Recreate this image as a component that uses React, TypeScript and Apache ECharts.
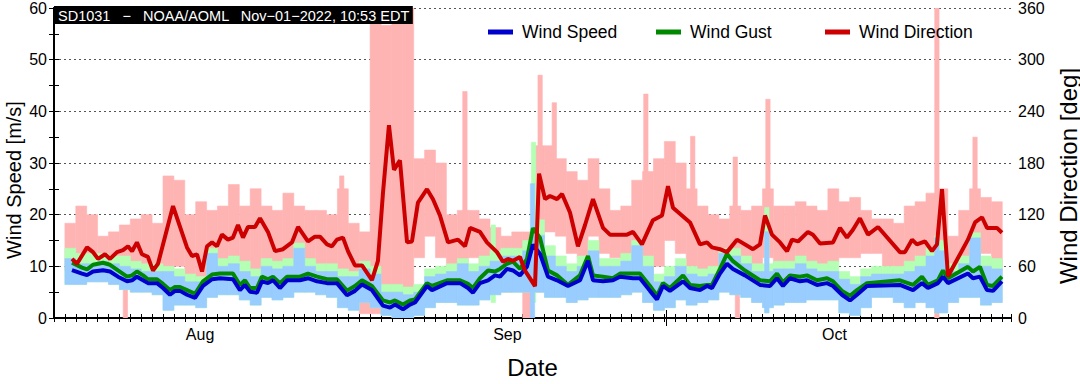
import React, { useEffect, useRef } from 'react';
import * as echarts from 'echarts';

// Time axis: days since 2022-07-23 00:00
const START_DATE = '2022-07-23';
const X_MAX_DAY = 87.8;
const monthLabels = ['Aug', 'Sep', 'Oct'];
const monthLabelDays = [13.4, 41.6, 71.6];
const majorTickDays = [56.2];

// Daily-average (thick) lines
const lineDays = [1.65,2.57,3.03,3.58,4.50,5.14,5.87,6.70,7.16,7.61,8.17,8.62,9.45,10.0,10.64,11.10,11.56,12.20,12.94,13.67,14.50,15.23,16.42,17.06,17.52,17.98,18.62,19.08,19.63,20.09,20.73,21.38,22.57,23.30,24.13,25.05,25.96,26.88,27.61,28.26,29.17,30.18,30.83,31.28,32.02,32.66,33.12,34.22,34.68,36.06,37.25,37.98,38.44,39.08,39.82,40.46,40.92,41.56,42.11,42.75,43.39,43.94,44.59,45.32,46.15,47.16,48.26,48.99,49.45,50.37,51.28,51.93,53.12,53.76,54.68,55.32,55.87,56.51,57.71,58.35,59.27,59.91,60.37,61.10,61.74,62.29,63.39,64.77,65.69,66.33,66.88,67.52,68.44,69.08,70.0,70.92,71.47,72.29,73.03,73.67,74.59,77.61,78.81,79.63,80.18,81.10,81.56,82.02,83.85,84.31,84.95,85.60,86.15,86.97];
const speedAvg = [9.25,8.6,8.3,9,9.25,9,8,7.1,7.3,8,7.3,6.75,6.75,5.8,4.5,5.25,5.25,4.5,3.9,6.2,7.5,7.7,7.5,5.4,6.4,5.1,4.9,7.1,6.75,7.3,5.8,7.3,7.3,7.7,7.1,6.75,6.75,4.4,5.25,6.5,5.4,2.4,2.0,2.6,1.7,2.6,3.0,6.2,5.4,6.75,6.75,5.8,4.9,6.75,7.3,8.25,8.0,9.5,9.2,8.25,9.9,14.2,12.4,8.0,7.3,6.2,7.3,11.1,7.3,7.1,7.3,8.0,7.7,7.7,5.25,3.6,6.2,5.25,7.1,5.8,5.4,6.2,5.8,8.6,10.5,9.5,8.25,6.4,6.2,7.7,6.2,7.7,7.1,7.3,6.4,6.75,6.2,4.5,3.4,4.5,6.2,6.4,5.4,6.75,5.8,6.75,8.0,6.75,8.6,7.7,8.0,5.4,5.25,7.1];
const gustAvg = [10.7,9.75,9.4,10.3,10.7,10.3,9.2,8.0,8.25,9.0,8.25,7.5,7.5,6.6,5.4,6.0,6.0,5.4,4.7,7.1,8.4,8.6,8.6,6.4,7.3,5.8,5.8,8.0,7.5,8.0,6.75,8.0,8.0,8.6,8.0,7.5,7.5,5.3,6.2,7.3,6.2,3.4,3.0,3.4,2.6,3.4,3.6,6.75,6.2,7.3,7.3,6.6,5.8,7.7,9.2,9.0,9.5,10.5,10.9,9.5,11.4,17.4,15.5,9.2,8.25,6.4,8.25,12.0,8.25,8.0,7.7,8.6,8.6,8.6,6.2,4.3,6.75,5.8,8.25,6.4,6.2,6.4,6.4,9.5,12.4,11.0,9.2,7.3,7.1,8.6,6.9,8.25,8.0,8.25,7.3,7.7,7.1,5.25,4.3,5.4,6.75,7.3,6.4,8.0,6.4,7.3,9.2,7.7,9.9,9.0,9.9,6.4,6.2,8.0];
const dirDays = [1.65,2.11,3.03,3.58,4.04,4.68,5.14,5.78,6.33,6.79,7.16,7.61,8.07,8.62,9.08,9.54,10.92,12.20,12.66,13.12,13.58,14.04,14.50,14.95,15.41,15.96,16.42,16.88,17.34,17.80,18.44,18.90,19.63,20.28,21.01,21.83,22.39,23.30,23.94,24.40,25.05,25.50,25.96,26.51,26.97,27.61,28.26,29.17,29.72,30.18,30.73,31.19,31.74,32.39,32.84,33.39,34.22,34.77,35.41,36.15,37.06,37.71,38.17,39.08,39.72,40.64,41.19,41.65,42.11,42.75,43.21,44.13,44.50,45.05,45.50,46.15,46.61,47.34,48.07,48.72,49.45,50.37,51.01,51.93,52.57,53.12,53.94,54.95,55.78,56.33,56.79,58.35,59.27,59.91,60.37,61.10,61.74,62.66,64.13,64.77,65.23,65.87,66.61,67.25,67.71,68.26,69.17,69.63,70.28,71.47,72.11,72.75,73.30,73.94,74.68,75.60,77.61,78.07,78.72,79.17,79.91,80.55,81.01,81.47,82.02,83.85,84.50,85.14,85.60,86.51,86.97];
const dirAvg = [68.6,63,82,76.5,68.6,74,68.6,76.5,78.8,83.3,77.6,87.8,74,70.9,55,63,130,82,72,74,54,83.3,87.8,83.3,96.8,91,93.4,108,93.4,105.7,105.7,115.8,100,77.6,79.9,87.8,105.7,88.9,94.5,94.5,85.5,83.3,91,93.4,77.6,61,61,44,66.4,145,224,172,183,87.8,88.9,134,149.6,138,119,87.8,91,83.3,104.6,100,87.8,76.5,65.3,68.6,66.4,70.9,55,37,167.6,138,141.7,138,144,122.6,83.3,108,138,104.6,96.8,96.8,96.8,100,85.5,113.6,119,153,128,111,85.5,87.8,82,79.9,76.5,91,79.9,85.5,119,96.8,87.8,77.6,91,88.9,100,96.8,86.6,87.8,104.6,93.4,102.4,115.8,96.8,105.7,76.5,76.5,91,85.5,88.9,77.6,85.5,149.6,48.4,91,111,117,104.6,104.6,99];

// Raw-data envelopes, one bin per day starting at day 1
const BIN_FIRST_DAY = 1;
const speedLo = [6.5,6.5,7,7,6.5,5.5,5,5,4.5,1.5,2.5,2.5,2,4,4.5,4.5,3.5,2.5,4,3.5,4,5,5,4.5,4,2,1.5,3,2,0.5,0,0,0.5,2,3,3,2.5,2.5,3.5,4.5,5,5,5,5,4,4,3,3.5,4,4,4,4.5,5,3,1.5,2,3.5,2.5,3,3.5,5,4.5,4,3,2,2.5,3,3,3.5,3.5,3.5,1,0.5,2,4,4,3,2,3,2,1,3,4,4,2.5,3];
const speedHi = [11.5,10.5,10.5,11,10.5,10,9.5,9,9,9,8,7,7,12.5,10,10.5,9,8,10,9.5,10,13.5,10,9,9,8,8,9.5,8.5,5,5,4.5,5,8,8.5,9,10.5,9,10,11,12,12,13,16,12,10,9,10,13,10,10,11,14,10,7,8,10,8.5,8,8.5,12.5,12,10.5,9,9,9.5,9.5,10.5,9.5,9,9,7.5,6.5,8,8.5,8.5,8.5,9,10,12,13,9,10.5,15.5,10,9.5];
const gustHi = [13.5,12.5,12.5,12.5,12,12,11,10.5,10.5,10,9.5,8.5,8,13.5,11.5,12,11,9.5,11.5,11,11.5,14.5,11.5,10.5,10.5,9.5,9,11,10,6.5,6.5,6,6.5,9.5,10,10.5,11.5,10.5,12,13,13.5,13.5,15,19,14,12,10.5,12,15,11.5,11.5,12.5,15,12,8.5,10,11.5,10,9.5,10,13.5,13.5,12,10.5,10.5,11,11,12,11,10.5,11,9,8,9.5,10,10,10,11,12,13.5,15,10.5,12,16.5,12,11.5];
const dirLo = [55,52,58,55,55,50,55,50,45,50,60,30,18,55,60,65,50,50,55,55,60,60,65,60,55,40,20,5,5,10,20,30,70,95,70,60,60,70,55,40,30,40,0,30,100,95,75,70,95,75,70,70,60,50,60,90,75,60,55,55,55,60,55,60,70,60,55,60,65,60,65,70,70,75,75,60,45,55,55,40,40,40,60,70,75,55];
const dirHi = [110,130,120,95,100,108,115,120,110,165,160,120,135,125,130,155,130,150,130,125,145,130,125,125,120,150,110,100,360,340,360,360,185,195,180,120,125,125,115,105,95,100,100,200,200,185,170,160,185,150,125,130,160,170,185,205,180,150,130,120,115,130,125,130,150,130,130,135,130,125,150,135,140,125,115,115,110,130,135,145,150,95,125,150,140,135];

// Short-lived excursions: [day, low, high]
const speedSpikes = [[43.9, 0, 26], [65.4, 1, 16.7], [81.0, 1, 15.5]];
const gustSpikes = [[40.3, 3, 18], [44.0, 3, 34], [65.4, 1, 21.4], [81.0, 1, 16]];
const dirSpikes = [[6.55, 0, 70], [26.4, 60, 165], [37.7, 80, 263], [44.6, 140, 282], [45.9, 110, 250], [54.3, 60, 260], [58.6, 70, 211], [62.5, 90, 187], [62.7, 0, 60], [65.5, 80, 254], [81.0, 0, 360], [84.5, 80, 210]];

const FONT = "'Liberation Sans', Arial, Helvetica, sans-serif";
const SPIKE_HALF = 0.2;

function buildBins(lo: number[], hi: number[], spikes: number[][]) {
  const out: number[][] = lo.map((l, i) => [BIN_FIRST_DAY + i, BIN_FIRST_DAY + i + 1, l, hi[i]]);
  spikes.forEach(([d, l, h]) => out.push([d - SPIKE_HALF, d + SPIKE_HALF, l, h]));
  return out;
}

function rangeSeries(name: string, data: number[][], color: string, yAxisIndex: number) {
  return {
    type: 'custom',
    name,
    xAxisIndex: 0,
    yAxisIndex,
    data,
    clip: true,
    silent: true,
    encode: { x: [0, 1], y: [2, 3] },
    renderItem: (_p: any, api: any) => {
      const a = api.coord([api.value(0), api.value(3)]);
      const b = api.coord([api.value(1), api.value(2)]);
      return {
        type: 'rect',
        shape: { x: a[0], y: a[1], width: b[0] - a[0], height: b[1] - a[1] },
        style: { fill: color, stroke: color, lineWidth: 0.6 },
      };
    },
  };
}

function pairs(xs: number[], ys: number[]) {
  return xs.map((x, i) => [x, ys[i]]);
}

export default function App() {
  const ref = useRef<HTMLDivElement>(null);
  useEffect(() => {
    if (!ref.current) return;
    const chart = echarts.init(ref.current, null, { renderer: 'svg' });
    const axisLine = { show: true, lineStyle: { color: '#000', width: 2 } };
    const tickIn = (length: number) => ({ show: true, inside: true, length, lineStyle: { color: '#000', width: 1 } });
    const baseX = { type: 'value', min: 0, max: X_MAX_DAY, interval: 1, splitLine: { show: false } };
    const legendBase = {
      itemWidth: 25, itemHeight: 5, top: 18, selectedMode: false,
      textStyle: { fontSize: 17.5, fontFamily: FONT, color: '#000', padding: [0, 0, 0, 4] },
    };
    const tickOnlyY = (position: string, max: number, interval: number) => ({
      type: 'value', min: 0, max, interval, position,
      axisLine: { show: false }, axisTick: tickIn(5), axisLabel: { show: false }, splitLine: { show: false },
    });
    chart.setOption({
      animation: false,
      backgroundColor: '#fff',
      grid: { left: 54, right: 69, top: 6, bottom: 58, containLabel: false },
      legend: [
        { ...legendBase, left: 483, data: [{ name: 'Wind Speed', icon: 'rect' }] },
        { ...legendBase, left: 651, data: [{ name: 'Wind Gust', icon: 'rect' }] },
        { ...legendBase, left: 820, data: [{ name: 'Wind Direction', icon: 'rect' }] },
      ],
      xAxis: [
        {
          ...baseX, position: 'bottom', axisLine,
          name: 'Date', nameLocation: 'middle', nameGap: 37,
          nameTextStyle: { fontSize: 24, fontFamily: FONT, color: '#000' },
          axisTick: tickIn(4),
          axisLabel: {
            show: true, customValues: monthLabelDays, margin: 8,
            fontSize: 16, fontFamily: FONT, color: '#000',
            formatter: (v: number) => {
              const i = monthLabelDays.findIndex((d) => Math.abs(d - v) < 0.01);
              return i >= 0 ? monthLabels[i] : '';
            },
          },
        },
        { ...baseX, position: 'top', axisLine, axisTick: tickIn(4), axisLabel: { show: false } },
        {
          ...baseX, position: 'bottom', axisLine: { show: false },
          axisTick: { ...tickIn(8), customValues: majorTickDays }, axisLabel: { show: false },
        },
        {
          ...baseX, position: 'top', axisLine: { show: false },
          axisTick: { ...tickIn(8), customValues: majorTickDays }, axisLabel: { show: false },
        },
      ],
      yAxis: [
        {
          type: 'value', min: 0, max: 60, interval: 10, position: 'left', axisLine,
          axisTick: { show: false },
          axisLabel: { fontSize: 16, fontFamily: FONT, color: '#000', margin: 7 },
          splitLine: { show: true, lineStyle: { color: '#555', type: [2, 3], width: 1 } },
        },
        {
          type: 'value', min: 0, max: 360, interval: 60, position: 'right', axisLine,
          axisTick: { show: false },
          axisLabel: { fontSize: 16, fontFamily: FONT, color: '#000', margin: 7 },
          splitLine: { show: false },
        },
        tickOnlyY('left', 60, 5),
        tickOnlyY('right', 360, 30),
      ],
      graphic: [
        {
          type: 'text', left: 54, top: 6, z: 100,
          style: {
            text: 'SD1031   \u2212   NOAA/AOML   Nov\u221201\u22122022, 10:53 EDT',
            fill: '#fff', backgroundColor: '#000', padding: [2, 3, 1, 4],
            fontSize: 14.5, fontFamily: FONT,
          },
        },
        {
          type: 'text', x: 14, y: 180, rotation: Math.PI / 2, z: 100,
          style: {
            text: 'Wind Speed [m/s]', fill: '#000', fontSize: 20, fontFamily: FONT,
            align: 'center', verticalAlign: 'middle',
          },
        },
        {
          type: 'text', x: 1068, y: 176, rotation: Math.PI / 2, z: 100,
          style: {
            text: 'Wind Direction [deg]', fill: '#000', fontSize: 24, fontFamily: FONT,
            align: 'center', verticalAlign: 'middle',
          },
        },
      ],
      series: [
        rangeSeries('Direction raw', buildBins(dirLo, dirHi, dirSpikes), '#ffb4b4', 1),
        rangeSeries('Gust raw', buildBins(speedLo, gustHi, gustSpikes), '#b4ffb4', 0),
        rangeSeries('Speed raw', buildBins(speedLo, speedHi, speedSpikes), '#99ccff', 0),
        {
          type: 'line', name: 'Wind Gust', xAxisIndex: 0, yAxisIndex: 0, data: pairs(lineDays, gustAvg),
          showSymbol: false, symbol: 'none', itemStyle: { color: '#008800' },
          lineStyle: { color: '#008800', width: 4 }, z: 4,
        },
        {
          type: 'line', name: 'Wind Speed', xAxisIndex: 0, yAxisIndex: 0, data: pairs(lineDays, speedAvg),
          showSymbol: false, symbol: 'none', itemStyle: { color: '#0000cc' },
          lineStyle: { color: '#0000cc', width: 4 }, z: 5,
        },
        {
          type: 'line', name: 'Wind Direction', xAxisIndex: 0, yAxisIndex: 1, data: pairs(dirDays, dirAvg),
          showSymbol: false, symbol: 'none', itemStyle: { color: '#cc0000' },
          lineStyle: { color: '#cc0000', width: 4 }, z: 6,
        },
      ],
    });
    return () => chart.dispose();
  }, []);
  return (
    <div
      ref={ref}
      data-start={START_DATE}
      style={{ position: 'fixed', left: 0, top: 0, width: 1080, height: 384, background: '#fff' }}
    />
  );
}
